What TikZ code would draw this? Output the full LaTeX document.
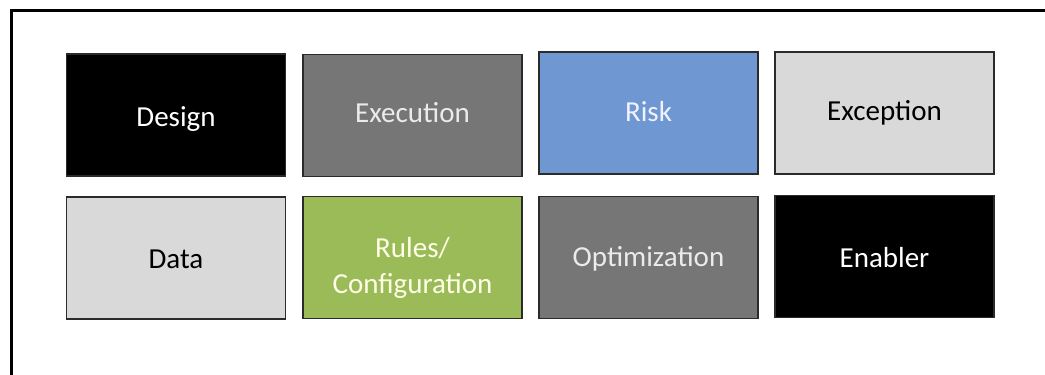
\documentclass[tikz,border=0pt]{standalone}
\usepackage{fontspec}
\setmainfont{Carlito}
\definecolor{darkgrey}{HTML}{767676}
\definecolor{lightgrey}{HTML}{D9D9D9}
\definecolor{riskblue}{HTML}{6F97D2}
\definecolor{rulesgreen}{HTML}{9BBB59}
\definecolor{edge}{HTML}{2B2B2B}
\tikzset{
  tile/.style={draw=edge, line width=1.7pt, minimum width=219pt, minimum height=122pt,
    inner sep=0pt, font=\fontsize{29}{36}\selectfont, text depth=0pt},
  darktile/.style={tile, fill=black, text=white},
  greytile/.style={tile, fill=darkgrey, text=white!92!black},
  lighttile/.style={tile, fill=lightgrey, text=black},
  bluetile/.style={tile, fill=riskblue, text=white!95!blue},
  greentile/.style={tile, fill=rulesgreen, text=white!90!yellow},
  frameline/.style={line width=3pt, draw=black}
}
\begin{document}
\begin{tikzpicture}[x=1pt,y=-1pt]
\useasboundingbox (0,0) rectangle (1045,375);
\fill[white] (0,0) rectangle (1045,375);
\coordinate (fbl) at (11.5,378);
\coordinate (ftl) at (11.5,10);
\coordinate (ftr) at (1048,10);
\draw[frameline] (fbl) -- (ftl) -- (ftr);
\node[darktile, text height=23.4pt]  (design)    at (176,115)   {Design};
\node[greytile, text height=13pt]    (execution) at (412.5,115.5) {Execution};
\node[bluetile, text height=17.4pt]  (risk)      at (648.5,113) {Risk};
\node[lighttile, text height=15.4pt] (exception) at (884.5,113) {Exception};
\node[lighttile, text height=20pt]   (data)      at (176,258)   {Data};
\node[greentile, text height=0pt]    (rules)     at (412.5,257.5)
  {\begin{tabular}[t]{@{}c@{}}Rules/\\Configuration\end{tabular}};
\node[greytile, text height=18.4pt]  (optim)     at (648.5,257.5) {Optimization};
\node[darktile, text height=21pt]    (enabler)   at (884.5,256.5) {Enabler};
\end{tikzpicture}
\end{document}
